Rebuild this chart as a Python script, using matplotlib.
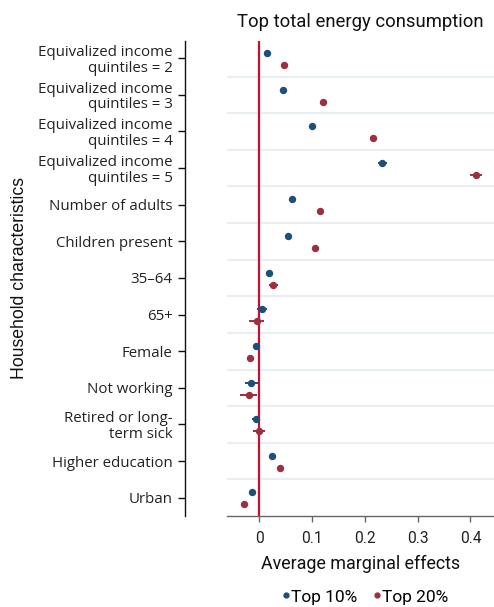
import matplotlib
matplotlib.use("Agg")
import matplotlib.pyplot as plt
from matplotlib.lines import Line2D
import numpy as np

plt.rcParams['font.family'] = ['Roboto', 'DejaVu Sans']

categories = [
    "Equivalized income\nquintiles = 2",
    "Equivalized income\nquintiles = 3",
    "Equivalized income\nquintiles = 4",
    "Equivalized income\nquintiles = 5",
    "Number of adults",
    "Children present",
    "35\u201364",
    "65+",
    "Female",
    "Not working",
    "Retired or long-\nterm sick",
    "Higher education",
    "Urban",
]
top10 = [0.015, 0.045, 0.100, 0.233, 0.062, 0.055, 0.018, 0.005, -0.007, -0.015, -0.006, 0.025, -0.014]
top10_ci = [0.003, 0.003, 0.003, 0.008, 0.002, 0.003, 0.005, 0.010, 0.003, 0.012, 0.008, 0.003, 0.003]
top20 = [0.047, 0.120, 0.216, 0.410, 0.115, 0.106, 0.027, -0.005, -0.017, -0.020, 0.000, 0.040, -0.029]
top20_ci = [0.004, 0.004, 0.006, 0.011, 0.003, 0.004, 0.009, 0.014, 0.004, 0.016, 0.011, 0.004, 0.003]
xticks = [0, 0.1, 0.2, 0.3, 0.4]
xticklabels = ["0", "0.1", "0.2", "0.3", "0.4"]

blue = "#1d4e7c"
red = "#9e2f3e"

fig = plt.figure(figsize=(4.94, 6.07), dpi=100)
ax = fig.add_axes([227/494, 1-516/607, 1-227/494, (516-41)/607])

pos = np.arange(len(categories))
for g in np.arange(0.5, len(categories) - 1, 1.0):
    ax.axhline(g, color="#e8eef2", lw=1.6, zorder=0)
ax.axvline(0, color="#c8102e", lw=1.6, zorder=1)

ax.errorbar(top10, pos - 0.145, xerr=top10_ci, fmt='o', color=blue, ms=4.3,
            elinewidth=1.4, capsize=0, zorder=3)
ax.errorbar(top20, pos + 0.183, xerr=top20_ci, fmt='o', color=red, ms=4.3,
            elinewidth=1.4, capsize=0, zorder=3)

ax.set_xlim(-0.061, 0.4445)
ax.set_ylim(12.5, -0.47)

for s in ['top', 'right']:
    ax.spines[s].set_visible(False)
ax.spines['left'].set_position(('outward', 30.2))
ax.spines['left'].set_color("#111111")
ax.spines['left'].set_linewidth(1.0)
ax.spines['bottom'].set_color("#666666")
ax.spines['bottom'].set_linewidth(1.0)
ax.tick_params(axis='y', length=5, width=1.0, color="#111111", pad=4)
ax.tick_params(axis='x', length=4.5, width=1.0, color="#666666", pad=6)

ax.set_yticks(pos)
ax.set_yticklabels(categories)
ax.set_xticks(xticks)
ax.set_xticklabels(xticklabels)
for lbl in ax.get_yticklabels():
    lbl.set_fontfamily(['Open Sans', 'DejaVu Sans'])
    lbl.set_fontsize(10.8)
    lbl.set_color("#222222")
    lbl.set_linespacing(1.05)
for lbl in ax.get_xticklabels():
    lbl.set_fontsize(11.2)
    lbl.set_color("#222222")

ax.set_title("Top total energy consumption", fontsize=13.3, pad=10, color="#111111")
ax.set_xlabel("Average marginal effects", fontsize=12.9, labelpad=7, color="#111111")
fig.text(19/494, 1-278/607, "Household characteristics", rotation=90,
         ha='center', va='center', fontsize=12.7, color="#111111",
         family=['Liberation Sans', 'DejaVu Sans'])

handles = [Line2D([], [], marker='o', ls='none', color=blue, ms=3.5),
           Line2D([], [], marker='o', ls='none', color=red, ms=3.5)]
fig.legend(handles, ["Top 10%", "Top 20%"], loc='center', ncol=2,
           bbox_to_anchor=(362/494, 1-597/607), frameon=False, fontsize=12.5,
           handletextpad=-0.3, columnspacing=0.5, handlelength=1.2)

fig.savefig("out.png", dpi=100)
